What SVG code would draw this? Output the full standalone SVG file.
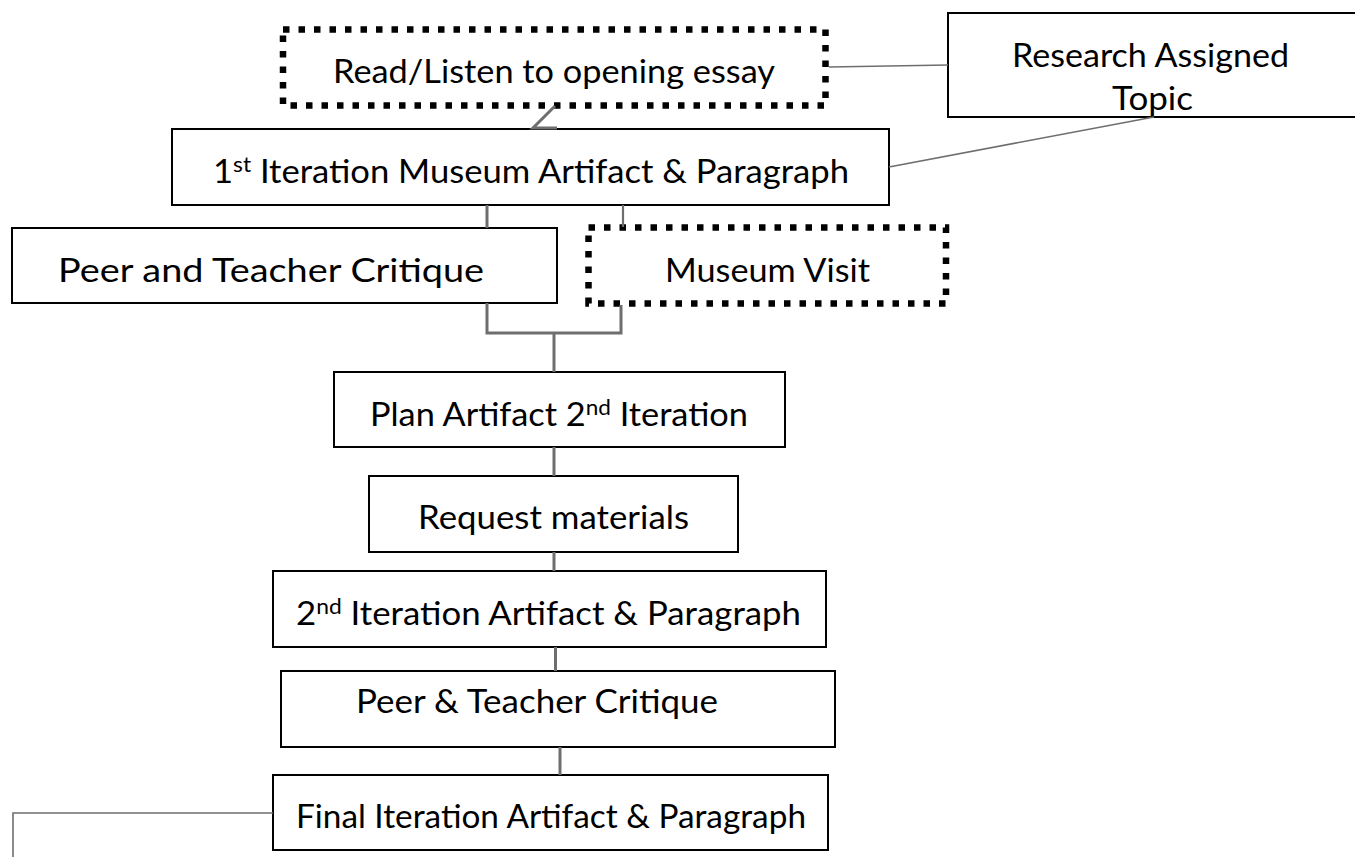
<svg xmlns="http://www.w3.org/2000/svg" width="1355" height="857" viewBox="0 0 1355 857">
<style>
.box{fill:#fff;stroke:#000;stroke-width:2}
.dot{fill:#fff;stroke:#000;stroke-width:6.5;stroke-dasharray:6.5 9}
.t{font-family:Lato,"Open Sans","Liberation Sans",sans-serif;font-size:32px;fill:#000}
.sup{font-size:21px}
.c{stroke:#6e6e6e;stroke-width:3;fill:none}
.thin{stroke:#6e6e6e;stroke-width:1.6;fill:none}
</style>
<rect width="1355" height="857" fill="#fff"/>
<g id="read">
<rect class="dot" x="283" y="29.5" width="542.5" height="76"/>
<text class="t" x="333" y="83" textLength="442" lengthAdjust="spacingAndGlyphs">Read/Listen to opening essay</text>
</g>
<g id="research">
<rect class="box" x="948" y="13" width="414" height="104"/>
<text class="t" x="1012" y="67" textLength="277" lengthAdjust="spacingAndGlyphs">Research Assigned</text>
<text class="t" x="1112" y="110" textLength="81" lengthAdjust="spacingAndGlyphs">Topic</text>
</g>
<g id="iter1">
<rect class="box" x="172" y="129" width="717" height="76"/>
<text class="t" x="213" y="183" textLength="636" lengthAdjust="spacingAndGlyphs">1<tspan class="sup" dy="-11">st</tspan><tspan dy="11"> Iteration Museum Artifact &amp; Paragraph</tspan></text>
</g>
<g id="peer1">
<rect class="box" x="12" y="228" width="545" height="75"/>
<text class="t" x="58" y="282" textLength="426" lengthAdjust="spacingAndGlyphs">Peer and Teacher Critique</text>
</g>
<g id="museum">
<rect class="dot" x="588.5" y="227.5" width="357.5" height="76"/>
<text class="t" x="665" y="282" textLength="205" lengthAdjust="spacingAndGlyphs">Museum Visit</text>
</g>
<g id="plan">
<rect class="box" x="334" y="372" width="451" height="75"/>
<text class="t" x="370" y="426" textLength="378" lengthAdjust="spacingAndGlyphs">Plan Artifact 2<tspan class="sup" dy="-11">nd</tspan><tspan dy="11"> Iteration</tspan></text>
</g>
<g id="request">
<rect class="box" x="369" y="476" width="369" height="76"/>
<text class="t" x="418" y="529" textLength="271" lengthAdjust="spacingAndGlyphs">Request materials</text>
</g>
<g id="iter2">
<rect class="box" x="273" y="571" width="553" height="76"/>
<text class="t" x="296" y="625" textLength="505" lengthAdjust="spacingAndGlyphs">2<tspan class="sup" dy="-11">nd</tspan><tspan dy="11"> Iteration Artifact &amp; Paragraph</tspan></text>
</g>
<g id="peer2">
<rect class="box" x="281" y="671" width="554" height="76"/>
<text class="t" x="356" y="713" textLength="362" lengthAdjust="spacingAndGlyphs">Peer &amp; Teacher Critique</text>
</g>
<g id="final">
<rect class="box" x="273" y="775" width="555" height="75"/>
<text class="t" x="296" y="828" textLength="510" lengthAdjust="spacingAndGlyphs">Final Iteration Artifact &amp; Paragraph</text>
</g>
<g id="connectors">
<path class="thin" d="M829 67 L948 65"/>
<path class="thin" d="M1154 117 L889 167"/>
<path class="c" d="M555 106 L533 128 L557 128"/>
<path class="c" d="M487 205 V228"/>
<path class="thin" d="M623 205 V227" style="stroke-width:2.2"/>
<path class="c" d="M487 303 V333 H621 V305"/>
<path class="c" d="M554 333 V372"/>
<path class="c" d="M554 447 V476"/>
<path class="c" d="M554 552 V571"/>
<path class="c" d="M555.5 647 V671"/>
<path class="c" d="M560 747 V775"/>
<path class="thin" d="M273 813 H13 V857"/>
</g>
</svg>
